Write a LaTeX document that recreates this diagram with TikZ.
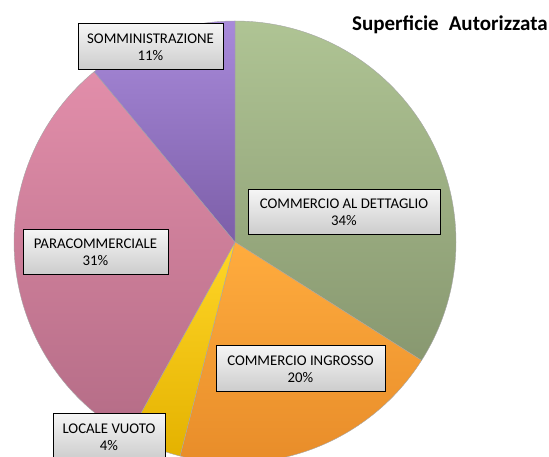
\documentclass[tikz,border=0pt]{standalone}
\usepackage{fontspec}
\newfontfamily\calibri{Carlito}
\usepackage{tikz}
\definecolor{greenTop}{RGB}{175,196,148}
\definecolor{greenBot}{RGB}{136,152,112}
\definecolor{orangeTop}{RGB}{255,172,62}
\definecolor{orangeBot}{RGB}{230,138,40}
\definecolor{yellowTop}{RGB}{255,214,40}
\definecolor{yellowBot}{RGB}{228,178,0}
\definecolor{pinkTop}{RGB}{226,142,170}
\definecolor{pinkBot}{RGB}{180,108,134}
\definecolor{purpleTop}{RGB}{168,138,218}
\definecolor{purpleBot}{RGB}{124,94,168}
\tikzset{
    slice/.style={draw=black!35, line width=0.4pt},
    lbl/.style={rectangle, draw=black, line width=1pt, inner sep=0pt,
        top color=white!96!black, bottom color=black!20, align=center,
        font=\calibri\fontsize{14.8}{17}\selectfont}
}

\begin{document}
\begin{tikzpicture}
    \useasboundingbox (0pt, 0pt) rectangle (549pt, 457pt);
    \clip (0pt, 0pt) rectangle (549pt, 457pt);
    \coordinate (c) at (235pt, 215pt);

    \shade[slice, top color=greenTop, bottom color=greenBot] (c) -- ++(90:221pt) arc[start angle=90, end angle=-32.4, radius=221pt] -- cycle;
    \shade[slice, top color=orangeTop, bottom color=orangeBot] (c) -- ++(-32.4:221pt) arc[start angle=-32.4, end angle=-104.4, radius=221pt] -- cycle;
    \shade[slice, top color=yellowTop, bottom color=yellowBot] (c) -- ++(-104.4:221pt) arc[start angle=-104.4, end angle=-118.8, radius=221pt] -- cycle;
    \shade[slice, top color=pinkTop, bottom color=pinkBot] (c) -- ++(-118.8:221pt) arc[start angle=-118.8, end angle=-230.4, radius=221pt] -- cycle;
    \shade[slice, top color=purpleTop, bottom color=purpleBot] (c) -- ++(129.6:221pt) arc[start angle=129.6, end angle=90, radius=221pt] -- cycle;

    \node (somm) [lbl, minimum width=145pt, minimum height=46pt] at (150.5pt, 410pt) {SOMMINISTRAZIONE\\11\%};
    \node (dett) [lbl, minimum width=192pt, minimum height=45pt] at (344pt, 244.5pt) {COMMERCIO AL DETTAGLIO\\34\%};
    \node (para) [lbl, minimum width=145pt, minimum height=45pt] at (95.5pt, 204.5pt) {PARACOMMERCIALE\\31\%};
    \node (ingr) [lbl, minimum width=169pt, minimum height=46pt] at (300.5pt, 88pt) {COMMERCIO INGROSSO\\20\%};
    \node (vuoto) [lbl, minimum width=112pt, minimum height=46pt] at (109pt, 20pt) {LOCALE VUOTO\\4\%};

    \node (title) [anchor=base east, inner sep=0pt, font=\calibri\bfseries\fontsize{21}{25}\selectfont] at (548pt, 426pt) {Superficie\hspace{10pt}Autorizzata};
\end{tikzpicture}
\end{document}
